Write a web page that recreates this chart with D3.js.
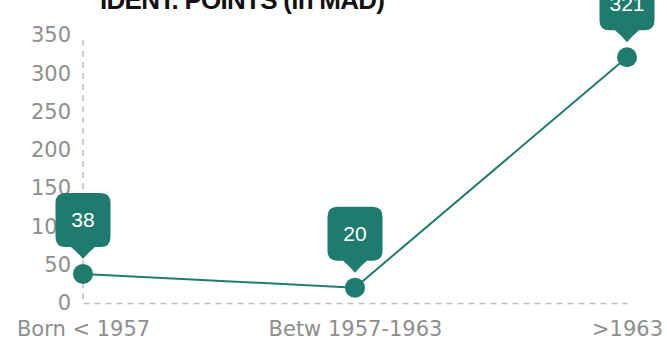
<!DOCTYPE html>
<meta charset="utf-8">
<script src="https://cdn.jsdelivr.net/npm/d3@7"></script>
<style>
  body { margin: 0; background: #fff; }
  svg { display: block; font-family: "DejaVu Sans", sans-serif; }
</style>
<svg width="667" height="340"></svg>
<script>
// data
var categories = ["Born < 1957", "Betw 1957-1963", ">1963"];
var values = [38, 20, 321];
var yTicks = [0, 50, 100, 150, 200, 250, 300, 350];
var title = "IDENT. POINTS (in MAD)";

var svg = d3.select("svg"),
  teal = "#1f7b6d",
  grey = "#8e8e8e";

var x = d3.scalePoint().domain(categories).range([83, 627]);
var y = d3.scaleLinear().domain([0, 350]).range([303, 35]);

// title (cut at the top in the picture)
svg.append("text")
  .attr("x", 100)
  .attr("y", 9)
  .attr("font-size", 26)
  .attr("font-weight", "bold")
  .attr("font-family", "Liberation Sans, Arial, sans-serif")
  .attr("textLength", 285)
  .attr("fill", "#111")
  .text(title);

//Y axis
var gy = svg.append("g")
  .attr("transform", "translate(83,0)")
  .call(d3.axisLeft(y).tickValues(yTicks).tickSize(0).tickPadding(12));
gy.select(".domain").remove();
gy.selectAll("text")
  .attr("font-size", 21)
  .attr("fill", grey)
  .attr("font-family", "DejaVu Sans, sans-serif");

svg.append("line")
  .attr("x1", 83).attr("x2", 83)
  .attr("y1", y(350) + 5).attr("y2", y(0))
  .attr("stroke", "#bdbdbd")
  .attr("stroke-width", 1.5)
  .attr("stroke-dasharray", "6,5");

//X axis
var gx = svg.append("g")
  .attr("transform", "translate(0," + y(0) + ")")
  .call(d3.axisBottom(x).tickSize(0).tickPadding(18));
gx.select(".domain")
  .attr("stroke", "#bdbdbd")
  .attr("stroke-width", 1.5)
  .attr("stroke-dasharray", "6,5");
gx.selectAll("text")
  .attr("font-size", 21)
  .attr("fill", grey)
  .attr("font-family", "DejaVu Sans, sans-serif");

//Line
var pts = categories.map(function(c, i) { return { cat: c, val: values[i] }; });

svg.append("path")
  .datum(pts)
  .attr("fill", "none")
  .attr("stroke", teal)
  .attr("stroke-width", 2)
  .attr("d", d3.line()
    .x(function(d) { return x(d.cat); })
    .y(function(d) { return y(d.val); }));

svg.append("g")
  .selectAll("circle")
  .data(pts)
  .enter()
  .append("circle")
  .attr("cx", function(d) { return x(d.cat); })
  .attr("cy", function(d) { return y(d.val); })
  .attr("r", 10)
  .attr("fill", teal);

//Callouts
function bubble(w, h, r, ph, pw) {
  // tip at (0,0), box above it
  var b = -ph, t = b - h, l = -w / 2, rr = w / 2;
  return "M0,0" +
    "Q" + (-pw / 4) + "," + (b * 0.6) + " " + (-pw / 2) + "," + b +
    "L" + (l + r) + "," + b +
    "Q" + l + "," + b + " " + l + "," + (b - r) +
    "L" + l + "," + (t + r) +
    "Q" + l + "," + t + " " + (l + r) + "," + t +
    "L" + (rr - r) + "," + t +
    "Q" + rr + "," + t + " " + rr + "," + (t + r) +
    "L" + rr + "," + (b - r) +
    "Q" + rr + "," + b + " " + (rr - r) + "," + b +
    "L" + (pw / 2) + "," + b +
    "Q" + (pw / 4) + "," + (b * 0.6) + " 0,0Z";
}

var call = svg.append("g")
  .selectAll("g")
  .data(pts)
  .enter()
  .append("g")
  .attr("transform", function(d) {
    return "translate(" + x(d.cat) + "," + (y(d.val) - 15) + ")";
  });

call.append("path")
  .attr("d", bubble(55, 54, 10, 12, 24))
  .attr("fill", teal);

call.append("text")
  .attr("y", -12 - 27)
  .attr("dy", "0.35em")
  .attr("text-anchor", "middle")
  .attr("font-size", 21)
  .attr("font-family", "Liberation Sans, Arial, sans-serif")
  .attr("fill", "#fff")
  .text(function(d) { return d.val; });
</script>
